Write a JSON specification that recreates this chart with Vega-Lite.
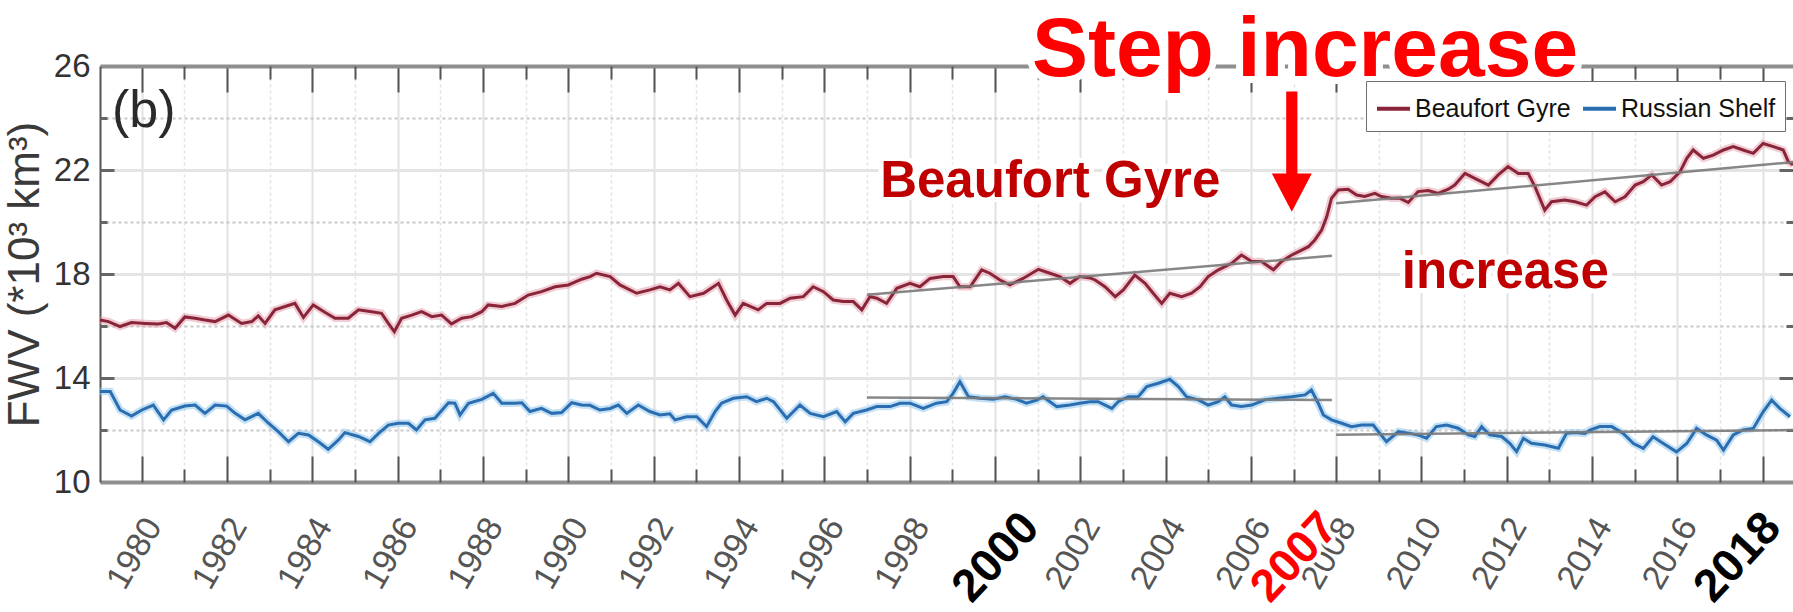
{
"$schema": "https://vega.github.io/schema/vega-lite/v6.json",
"width": 1693, "height": 416,
"autosize": {"type": "none"},
"padding": {"left": 100, "top": 66, "right": 0, "bottom": 130},
"background": "white",
"config": {"view": {"stroke": null}, "font": "Liberation Sans"},
"data": {"values": [
{"series":"Beaufort Gyre","year":1979.02,"fwv":16.23},{"series":"Beaufort Gyre","year":1979.22,"fwv":16.17},{"series":"Beaufort Gyre","year":1979.49,"fwv":15.98},{"series":"Beaufort Gyre","year":1979.76,"fwv":16.13},{"series":"Beaufort Gyre","year":1980.08,"fwv":16.10},{"series":"Beaufort Gyre","year":1980.39,"fwv":16.08},{"series":"Beaufort Gyre","year":1980.58,"fwv":16.13},{"series":"Beaufort Gyre","year":1980.78,"fwv":15.91},{"series":"Beaufort Gyre","year":1981.01,"fwv":16.35},{"series":"Beaufort Gyre","year":1981.25,"fwv":16.30},{"series":"Beaufort Gyre","year":1981.48,"fwv":16.23},{"series":"Beaufort Gyre","year":1981.72,"fwv":16.17},{"series":"Beaufort Gyre","year":1982.03,"fwv":16.42},{"series":"Beaufort Gyre","year":1982.34,"fwv":16.10},{"series":"Beaufort Gyre","year":1982.58,"fwv":16.17},{"series":"Beaufort Gyre","year":1982.73,"fwv":16.39},{"series":"Beaufort Gyre","year":1982.89,"fwv":16.10},{"series":"Beaufort Gyre","year":1983.12,"fwv":16.62},{"series":"Beaufort Gyre","year":1983.36,"fwv":16.75},{"series":"Beaufort Gyre","year":1983.59,"fwv":16.87},{"series":"Beaufort Gyre","year":1983.79,"fwv":16.33},{"series":"Beaufort Gyre","year":1984.02,"fwv":16.81},{"series":"Beaufort Gyre","year":1984.30,"fwv":16.52},{"series":"Beaufort Gyre","year":1984.53,"fwv":16.30},{"series":"Beaufort Gyre","year":1984.84,"fwv":16.30},{"series":"Beaufort Gyre","year":1985.08,"fwv":16.62},{"series":"Beaufort Gyre","year":1985.39,"fwv":16.55},{"series":"Beaufort Gyre","year":1985.62,"fwv":16.49},{"series":"Beaufort Gyre","year":1985.78,"fwv":16.10},{"series":"Beaufort Gyre","year":1985.92,"fwv":15.78},{"series":"Beaufort Gyre","year":1986.09,"fwv":16.30},{"series":"Beaufort Gyre","year":1986.33,"fwv":16.42},{"series":"Beaufort Gyre","year":1986.56,"fwv":16.55},{"series":"Beaufort Gyre","year":1986.80,"fwv":16.36},{"series":"Beaufort Gyre","year":1987.03,"fwv":16.42},{"series":"Beaufort Gyre","year":1987.26,"fwv":16.08},{"series":"Beaufort Gyre","year":1987.50,"fwv":16.30},{"series":"Beaufort Gyre","year":1987.73,"fwv":16.36},{"series":"Beaufort Gyre","year":1987.97,"fwv":16.55},{"series":"Beaufort Gyre","year":1988.12,"fwv":16.81},{"series":"Beaufort Gyre","year":1988.44,"fwv":16.75},{"series":"Beaufort Gyre","year":1988.75,"fwv":16.87},{"series":"Beaufort Gyre","year":1989.06,"fwv":17.19},{"series":"Beaufort Gyre","year":1989.37,"fwv":17.32},{"series":"Beaufort Gyre","year":1989.69,"fwv":17.51},{"series":"Beaufort Gyre","year":1990.00,"fwv":17.58},{"series":"Beaufort Gyre","year":1990.31,"fwv":17.80},{"series":"Beaufort Gyre","year":1990.51,"fwv":17.90},{"series":"Beaufort Gyre","year":1990.66,"fwv":18.03},{"series":"Beaufort Gyre","year":1990.98,"fwv":17.90},{"series":"Beaufort Gyre","year":1991.21,"fwv":17.58},{"series":"Beaufort Gyre","year":1991.60,"fwv":17.26},{"series":"Beaufort Gyre","year":1991.91,"fwv":17.39},{"series":"Beaufort Gyre","year":1992.15,"fwv":17.51},{"series":"Beaufort Gyre","year":1992.38,"fwv":17.39},{"series":"Beaufort Gyre","year":1992.58,"fwv":17.64},{"series":"Beaufort Gyre","year":1992.85,"fwv":17.13},{"series":"Beaufort Gyre","year":1993.17,"fwv":17.26},{"series":"Beaufort Gyre","year":1993.52,"fwv":17.64},{"series":"Beaufort Gyre","year":1993.71,"fwv":17.00},{"series":"Beaufort Gyre","year":1993.91,"fwv":16.42},{"series":"Beaufort Gyre","year":1994.10,"fwv":16.87},{"series":"Beaufort Gyre","year":1994.45,"fwv":16.62},{"series":"Beaufort Gyre","year":1994.65,"fwv":16.87},{"series":"Beaufort Gyre","year":1994.96,"fwv":16.87},{"series":"Beaufort Gyre","year":1995.20,"fwv":17.07},{"series":"Beaufort Gyre","year":1995.51,"fwv":17.13},{"series":"Beaufort Gyre","year":1995.74,"fwv":17.51},{"series":"Beaufort Gyre","year":1995.98,"fwv":17.32},{"series":"Beaufort Gyre","year":1996.21,"fwv":17.00},{"series":"Beaufort Gyre","year":1996.45,"fwv":16.94},{"series":"Beaufort Gyre","year":1996.68,"fwv":16.94},{"series":"Beaufort Gyre","year":1996.88,"fwv":16.62},{"series":"Beaufort Gyre","year":1997.07,"fwv":17.13},{"series":"Beaufort Gyre","year":1997.23,"fwv":17.07},{"series":"Beaufort Gyre","year":1997.46,"fwv":16.87},{"series":"Beaufort Gyre","year":1997.70,"fwv":17.45},{"series":"Beaufort Gyre","year":1998.01,"fwv":17.64},{"series":"Beaufort Gyre","year":1998.24,"fwv":17.51},{"series":"Beaufort Gyre","year":1998.48,"fwv":17.83},{"series":"Beaufort Gyre","year":1998.79,"fwv":17.90},{"series":"Beaufort Gyre","year":1999.02,"fwv":17.90},{"series":"Beaufort Gyre","year":1999.18,"fwv":17.51},{"series":"Beaufort Gyre","year":1999.42,"fwv":17.51},{"series":"Beaufort Gyre","year":1999.69,"fwv":18.16},{"series":"Beaufort Gyre","year":1999.88,"fwv":18.03},{"series":"Beaufort Gyre","year":2000.12,"fwv":17.77},{"series":"Beaufort Gyre","year":2000.35,"fwv":17.58},{"series":"Beaufort Gyre","year":2000.66,"fwv":17.83},{"series":"Beaufort Gyre","year":2001.02,"fwv":18.18},{"series":"Beaufort Gyre","year":2001.29,"fwv":18.03},{"series":"Beaufort Gyre","year":2001.52,"fwv":17.90},{"series":"Beaufort Gyre","year":2001.76,"fwv":17.64},{"series":"Beaufort Gyre","year":2001.99,"fwv":17.90},{"series":"Beaufort Gyre","year":2002.23,"fwv":17.85},{"series":"Beaufort Gyre","year":2002.35,"fwv":17.77},{"series":"Beaufort Gyre","year":2002.58,"fwv":17.51},{"series":"Beaufort Gyre","year":2002.82,"fwv":17.13},{"series":"Beaufort Gyre","year":2003.01,"fwv":17.39},{"series":"Beaufort Gyre","year":2003.28,"fwv":17.96},{"series":"Beaufort Gyre","year":2003.52,"fwv":17.64},{"series":"Beaufort Gyre","year":2003.71,"fwv":17.26},{"series":"Beaufort Gyre","year":2003.91,"fwv":16.87},{"series":"Beaufort Gyre","year":2004.10,"fwv":17.26},{"series":"Beaufort Gyre","year":2004.38,"fwv":17.13},{"series":"Beaufort Gyre","year":2004.61,"fwv":17.26},{"series":"Beaufort Gyre","year":2004.81,"fwv":17.51},{"series":"Beaufort Gyre","year":2005.00,"fwv":17.90},{"series":"Beaufort Gyre","year":2005.24,"fwv":18.16},{"series":"Beaufort Gyre","year":2005.55,"fwv":18.41},{"series":"Beaufort Gyre","year":2005.78,"fwv":18.73},{"series":"Beaufort Gyre","year":2006.02,"fwv":18.48},{"series":"Beaufort Gyre","year":2006.25,"fwv":18.48},{"series":"Beaufort Gyre","year":2006.53,"fwv":18.16},{"series":"Beaufort Gyre","year":2006.72,"fwv":18.48},{"series":"Beaufort Gyre","year":2006.96,"fwv":18.73},{"series":"Beaufort Gyre","year":2007.19,"fwv":18.92},{"series":"Beaufort Gyre","year":2007.35,"fwv":19.05},{"series":"Beaufort Gyre","year":2007.50,"fwv":19.31},{"series":"Beaufort Gyre","year":2007.66,"fwv":19.69},{"series":"Beaufort Gyre","year":2007.78,"fwv":20.21},{"series":"Beaufort Gyre","year":2007.89,"fwv":20.91},{"series":"Beaufort Gyre","year":2008.05,"fwv":21.23},{"series":"Beaufort Gyre","year":2008.28,"fwv":21.26},{"series":"Beaufort Gyre","year":2008.48,"fwv":21.04},{"series":"Beaufort Gyre","year":2008.67,"fwv":20.98},{"series":"Beaufort Gyre","year":2008.91,"fwv":21.10},{"series":"Beaufort Gyre","year":2009.06,"fwv":20.98},{"series":"Beaufort Gyre","year":2009.30,"fwv":20.91},{"series":"Beaufort Gyre","year":2009.50,"fwv":20.91},{"series":"Beaufort Gyre","year":2009.69,"fwv":20.75},{"series":"Beaufort Gyre","year":2009.92,"fwv":21.17},{"series":"Beaufort Gyre","year":2010.16,"fwv":21.21},{"series":"Beaufort Gyre","year":2010.39,"fwv":21.10},{"series":"Beaufort Gyre","year":2010.63,"fwv":21.26},{"series":"Beaufort Gyre","year":2010.78,"fwv":21.42},{"series":"Beaufort Gyre","year":2011.02,"fwv":21.87},{"series":"Beaufort Gyre","year":2011.25,"fwv":21.68},{"series":"Beaufort Gyre","year":2011.57,"fwv":21.42},{"series":"Beaufort Gyre","year":2011.80,"fwv":21.81},{"series":"Beaufort Gyre","year":2012.03,"fwv":22.13},{"series":"Beaufort Gyre","year":2012.27,"fwv":21.87},{"series":"Beaufort Gyre","year":2012.50,"fwv":21.87},{"series":"Beaufort Gyre","year":2012.66,"fwv":21.36},{"series":"Beaufort Gyre","year":2012.89,"fwv":20.46},{"series":"Beaufort Gyre","year":2013.05,"fwv":20.78},{"series":"Beaufort Gyre","year":2013.36,"fwv":20.85},{"series":"Beaufort Gyre","year":2013.60,"fwv":20.78},{"series":"Beaufort Gyre","year":2013.87,"fwv":20.65},{"series":"Beaufort Gyre","year":2014.07,"fwv":20.97},{"series":"Beaufort Gyre","year":2014.30,"fwv":21.16},{"series":"Beaufort Gyre","year":2014.54,"fwv":20.78},{"series":"Beaufort Gyre","year":2014.77,"fwv":20.97},{"series":"Beaufort Gyre","year":2015.01,"fwv":21.42},{"series":"Beaufort Gyre","year":2015.20,"fwv":21.55},{"series":"Beaufort Gyre","year":2015.40,"fwv":21.81},{"series":"Beaufort Gyre","year":2015.63,"fwv":21.42},{"series":"Beaufort Gyre","year":2015.83,"fwv":21.55},{"series":"Beaufort Gyre","year":2016.06,"fwv":21.93},{"series":"Beaufort Gyre","year":2016.22,"fwv":22.45},{"series":"Beaufort Gyre","year":2016.37,"fwv":22.77},{"series":"Beaufort Gyre","year":2016.61,"fwv":22.45},{"series":"Beaufort Gyre","year":2016.84,"fwv":22.57},{"series":"Beaufort Gyre","year":2017.08,"fwv":22.77},{"series":"Beaufort Gyre","year":2017.31,"fwv":22.90},{"series":"Beaufort Gyre","year":2017.54,"fwv":22.77},{"series":"Beaufort Gyre","year":2017.78,"fwv":22.64},{"series":"Beaufort Gyre","year":2018.01,"fwv":23.02},{"series":"Beaufort Gyre","year":2018.25,"fwv":22.90},{"series":"Beaufort Gyre","year":2018.48,"fwv":22.77},{"series":"Beaufort Gyre","year":2018.60,"fwv":22.32},{"series":"Beaufort Gyre","year":2018.71,"fwv":22.20},
{"series":"Russian Shelf","year":1979.02,"fwv":13.48},{"series":"Russian Shelf","year":1979.26,"fwv":13.48},{"series":"Russian Shelf","year":1979.49,"fwv":12.77},{"series":"Russian Shelf","year":1979.76,"fwv":12.54},{"series":"Russian Shelf","year":1980.00,"fwv":12.77},{"series":"Russian Shelf","year":1980.27,"fwv":12.96},{"series":"Russian Shelf","year":1980.51,"fwv":12.39},{"series":"Russian Shelf","year":1980.70,"fwv":12.77},{"series":"Russian Shelf","year":1981.01,"fwv":12.92},{"series":"Russian Shelf","year":1981.25,"fwv":12.96},{"series":"Russian Shelf","year":1981.48,"fwv":12.64},{"series":"Russian Shelf","year":1981.72,"fwv":12.96},{"series":"Russian Shelf","year":1981.99,"fwv":12.92},{"series":"Russian Shelf","year":1982.19,"fwv":12.64},{"series":"Russian Shelf","year":1982.42,"fwv":12.39},{"series":"Russian Shelf","year":1982.73,"fwv":12.64},{"series":"Russian Shelf","year":1982.97,"fwv":12.26},{"series":"Russian Shelf","year":1983.20,"fwv":11.94},{"series":"Russian Shelf","year":1983.44,"fwv":11.55},{"series":"Russian Shelf","year":1983.67,"fwv":11.87},{"series":"Russian Shelf","year":1983.91,"fwv":11.81},{"series":"Russian Shelf","year":1984.14,"fwv":11.55},{"series":"Russian Shelf","year":1984.37,"fwv":11.26},{"series":"Russian Shelf","year":1984.61,"fwv":11.62},{"series":"Russian Shelf","year":1984.76,"fwv":11.90},{"series":"Russian Shelf","year":1985.08,"fwv":11.75},{"series":"Russian Shelf","year":1985.35,"fwv":11.55},{"series":"Russian Shelf","year":1985.55,"fwv":11.87},{"series":"Russian Shelf","year":1985.78,"fwv":12.19},{"series":"Russian Shelf","year":1986.01,"fwv":12.26},{"series":"Russian Shelf","year":1986.25,"fwv":12.26},{"series":"Russian Shelf","year":1986.44,"fwv":12.00},{"series":"Russian Shelf","year":1986.64,"fwv":12.39},{"series":"Russian Shelf","year":1986.87,"fwv":12.45},{"series":"Russian Shelf","year":1987.19,"fwv":13.05},{"series":"Russian Shelf","year":1987.34,"fwv":13.03},{"series":"Russian Shelf","year":1987.46,"fwv":12.58},{"series":"Russian Shelf","year":1987.66,"fwv":13.03},{"series":"Russian Shelf","year":1987.97,"fwv":13.18},{"series":"Russian Shelf","year":1988.24,"fwv":13.41},{"series":"Russian Shelf","year":1988.44,"fwv":13.03},{"series":"Russian Shelf","year":1988.75,"fwv":13.03},{"series":"Russian Shelf","year":1988.91,"fwv":13.05},{"series":"Russian Shelf","year":1989.10,"fwv":12.71},{"series":"Russian Shelf","year":1989.37,"fwv":12.83},{"series":"Russian Shelf","year":1989.61,"fwv":12.64},{"series":"Russian Shelf","year":1989.84,"fwv":12.67},{"series":"Russian Shelf","year":1990.08,"fwv":13.05},{"series":"Russian Shelf","year":1990.31,"fwv":12.96},{"series":"Russian Shelf","year":1990.51,"fwv":12.95},{"series":"Russian Shelf","year":1990.74,"fwv":12.77},{"series":"Russian Shelf","year":1990.98,"fwv":12.83},{"series":"Russian Shelf","year":1991.17,"fwv":12.96},{"series":"Russian Shelf","year":1991.37,"fwv":12.64},{"series":"Russian Shelf","year":1991.64,"fwv":12.96},{"series":"Russian Shelf","year":1991.91,"fwv":12.71},{"series":"Russian Shelf","year":1992.15,"fwv":12.58},{"series":"Russian Shelf","year":1992.38,"fwv":12.62},{"series":"Russian Shelf","year":1992.50,"fwv":12.39},{"series":"Russian Shelf","year":1992.77,"fwv":12.51},{"series":"Russian Shelf","year":1993.01,"fwv":12.51},{"series":"Russian Shelf","year":1993.24,"fwv":12.13},{"series":"Russian Shelf","year":1993.44,"fwv":12.71},{"series":"Russian Shelf","year":1993.59,"fwv":13.03},{"series":"Russian Shelf","year":1993.87,"fwv":13.22},{"series":"Russian Shelf","year":1994.18,"fwv":13.28},{"series":"Russian Shelf","year":1994.41,"fwv":13.09},{"series":"Russian Shelf","year":1994.65,"fwv":13.22},{"series":"Russian Shelf","year":1994.81,"fwv":13.09},{"series":"Russian Shelf","year":1995.12,"fwv":12.45},{"series":"Russian Shelf","year":1995.43,"fwv":12.96},{"series":"Russian Shelf","year":1995.67,"fwv":12.64},{"series":"Russian Shelf","year":1995.98,"fwv":12.51},{"series":"Russian Shelf","year":1996.29,"fwv":12.71},{"series":"Russian Shelf","year":1996.49,"fwv":12.32},{"series":"Russian Shelf","year":1996.68,"fwv":12.64},{"series":"Russian Shelf","year":1996.99,"fwv":12.77},{"series":"Russian Shelf","year":1997.23,"fwv":12.90},{"series":"Russian Shelf","year":1997.54,"fwv":12.90},{"series":"Russian Shelf","year":1997.78,"fwv":13.03},{"series":"Russian Shelf","year":1998.01,"fwv":13.03},{"series":"Russian Shelf","year":1998.32,"fwv":12.83},{"series":"Russian Shelf","year":1998.63,"fwv":13.03},{"series":"Russian Shelf","year":1998.87,"fwv":13.09},{"series":"Russian Shelf","year":1999.02,"fwv":13.41},{"series":"Russian Shelf","year":1999.18,"fwv":13.86},{"series":"Russian Shelf","year":1999.38,"fwv":13.28},{"series":"Russian Shelf","year":1999.65,"fwv":13.22},{"series":"Russian Shelf","year":1999.96,"fwv":13.18},{"series":"Russian Shelf","year":2000.24,"fwv":13.28},{"series":"Russian Shelf","year":2000.51,"fwv":13.18},{"series":"Russian Shelf","year":2000.74,"fwv":13.03},{"series":"Russian Shelf","year":2000.98,"fwv":13.15},{"series":"Russian Shelf","year":2001.13,"fwv":13.28},{"series":"Russian Shelf","year":2001.45,"fwv":12.90},{"series":"Russian Shelf","year":2001.76,"fwv":12.96},{"series":"Russian Shelf","year":2001.99,"fwv":13.03},{"series":"Russian Shelf","year":2002.23,"fwv":13.09},{"series":"Russian Shelf","year":2002.42,"fwv":13.09},{"series":"Russian Shelf","year":2002.74,"fwv":12.83},{"series":"Russian Shelf","year":2002.89,"fwv":13.09},{"series":"Russian Shelf","year":2003.13,"fwv":13.28},{"series":"Russian Shelf","year":2003.36,"fwv":13.28},{"series":"Russian Shelf","year":2003.56,"fwv":13.67},{"series":"Russian Shelf","year":2003.83,"fwv":13.80},{"series":"Russian Shelf","year":2004.10,"fwv":13.95},{"series":"Russian Shelf","year":2004.30,"fwv":13.67},{"series":"Russian Shelf","year":2004.49,"fwv":13.28},{"series":"Russian Shelf","year":2004.77,"fwv":13.16},{"series":"Russian Shelf","year":2005.00,"fwv":12.96},{"series":"Russian Shelf","year":2005.24,"fwv":13.09},{"series":"Russian Shelf","year":2005.39,"fwv":13.28},{"series":"Russian Shelf","year":2005.55,"fwv":12.96},{"series":"Russian Shelf","year":2005.78,"fwv":12.90},{"series":"Russian Shelf","year":2006.02,"fwv":12.96},{"series":"Russian Shelf","year":2006.33,"fwv":13.16},{"series":"Russian Shelf","year":2006.64,"fwv":13.22},{"series":"Russian Shelf","year":2006.96,"fwv":13.28},{"series":"Russian Shelf","year":2007.27,"fwv":13.35},{"series":"Russian Shelf","year":2007.42,"fwv":13.54},{"series":"Russian Shelf","year":2007.58,"fwv":13.03},{"series":"Russian Shelf","year":2007.70,"fwv":12.58},{"series":"Russian Shelf","year":2007.89,"fwv":12.39},{"series":"Russian Shelf","year":2008.13,"fwv":12.26},{"series":"Russian Shelf","year":2008.36,"fwv":12.13},{"series":"Russian Shelf","year":2008.60,"fwv":12.19},{"series":"Russian Shelf","year":2008.87,"fwv":12.19},{"series":"Russian Shelf","year":2008.99,"fwv":11.94},{"series":"Russian Shelf","year":2009.18,"fwv":11.55},{"series":"Russian Shelf","year":2009.46,"fwv":11.94},{"series":"Russian Shelf","year":2009.73,"fwv":11.87},{"series":"Russian Shelf","year":2009.92,"fwv":11.81},{"series":"Russian Shelf","year":2010.12,"fwv":11.68},{"series":"Russian Shelf","year":2010.35,"fwv":12.13},{"series":"Russian Shelf","year":2010.59,"fwv":12.19},{"series":"Russian Shelf","year":2010.86,"fwv":12.07},{"series":"Russian Shelf","year":2011.10,"fwv":11.81},{"series":"Russian Shelf","year":2011.25,"fwv":11.75},{"series":"Russian Shelf","year":2011.41,"fwv":12.13},{"series":"Russian Shelf","year":2011.60,"fwv":11.81},{"series":"Russian Shelf","year":2011.88,"fwv":11.75},{"series":"Russian Shelf","year":2012.07,"fwv":11.49},{"series":"Russian Shelf","year":2012.23,"fwv":11.17},{"series":"Russian Shelf","year":2012.39,"fwv":11.68},{"series":"Russian Shelf","year":2012.58,"fwv":11.49},{"series":"Russian Shelf","year":2012.89,"fwv":11.42},{"series":"Russian Shelf","year":2013.21,"fwv":11.30},{"series":"Russian Shelf","year":2013.40,"fwv":11.87},{"series":"Russian Shelf","year":2013.60,"fwv":11.90},{"series":"Russian Shelf","year":2013.83,"fwv":11.87},{"series":"Russian Shelf","year":2013.95,"fwv":12.00},{"series":"Russian Shelf","year":2014.18,"fwv":12.13},{"series":"Russian Shelf","year":2014.46,"fwv":12.13},{"series":"Russian Shelf","year":2014.73,"fwv":11.87},{"series":"Russian Shelf","year":2014.97,"fwv":11.48},{"series":"Russian Shelf","year":2015.20,"fwv":11.29},{"series":"Russian Shelf","year":2015.43,"fwv":11.74},{"series":"Russian Shelf","year":2015.67,"fwv":11.48},{"series":"Russian Shelf","year":2015.98,"fwv":11.16},{"series":"Russian Shelf","year":2016.22,"fwv":11.48},{"series":"Russian Shelf","year":2016.45,"fwv":12.06},{"series":"Russian Shelf","year":2016.68,"fwv":11.81},{"series":"Russian Shelf","year":2016.92,"fwv":11.61},{"series":"Russian Shelf","year":2017.08,"fwv":11.23},{"series":"Russian Shelf","year":2017.31,"fwv":11.81},{"series":"Russian Shelf","year":2017.54,"fwv":12.00},{"series":"Russian Shelf","year":2017.78,"fwv":12.06},{"series":"Russian Shelf","year":2018.01,"fwv":12.70},{"series":"Russian Shelf","year":2018.21,"fwv":13.15},{"series":"Russian Shelf","year":2018.40,"fwv":12.83},{"series":"Russian Shelf","year":2018.64,"fwv":12.51}
]},
"encoding": {
  "x": {"field": "year", "type": "quantitative", "scale": {"domain": [1979.02, 2018.71], "nice": false, "zero": false}, "axis": null},
  "y": {"field": "fwv", "type": "quantitative", "scale": {"domain": [10, 26], "nice": false, "zero": false}, "axis": null}
},
"layer": [
  {
    "transform": [{"filter": "datum.series === 'Beaufort Gyre'"}],
    "mark": {"type": "line", "color": "#e3a2b1", "strokeWidth": 7.5, "opacity": 0.55},
    "encoding": {
      "x": {"field": "year", "type": "quantitative", "scale": {"domain": [1979.02, 2018.71], "nice": false, "zero": false},
        "axis": {"orient": "bottom", "values": [1980,1981,1982,1983,1984,1985,1986,1987,1988,1989,1990,1991,1992,1993,1994,1995,1996,1997,1998,1999,2000,2001,2002,2003,2004,2005,2006,2007,2008,2009,2010,2011,2012,2013,2014,2015,2016,2017,2018],
          "format": "d", "labelExpr": "(datum.value % 2 === 0 && datum.value !== 2000 && datum.value !== 2018) ? datum.label : ''",
          "ticks": false, "domain": true, "domainColor": "#8f8f8f", "domainWidth": 4,
          "grid": true, "gridColor": "#e2e2e2",
          "gridWidth": {"condition": {"test": "datum.value % 2 === 0", "value": 2}, "value": 1.5},
          "gridDash": {"condition": {"test": "datum.value % 2 === 1", "value": [3, 3]}, "value": []},
          "labelAngle": -60, "labelAlign": "right", "labelBaseline": "top", "labelFont": "Liberation Sans", "labelFontSize": 34,
          "labelColor": "#555555", "labelPadding": 30, "labelOffset": -3, "labelOverlap": false, "labelFlush": false, "labelBound": false, "title": null}},
      "y": {"field": "fwv", "type": "quantitative", "scale": {"domain": [10, 26], "nice": false, "zero": false},
        "axis": {"orient": "left", "values": [10,12,14,16,18,20,22,24,26],
          "labelExpr": "datum.value % 4 === 2 ? datum.label : ''",
          "ticks": false, "domain": true, "domainColor": "#555555", "domainWidth": 2,
          "grid": true,
          "gridColor": {"condition": {"test": "datum.value % 4 === 2", "value": "#e4e4e4"}, "value": "#c8c8c8"},
          "gridWidth": {"condition": {"test": "datum.value % 4 === 2", "value": 3}, "value": 2},
          "gridDash": {"condition": {"test": "datum.value % 4 === 0", "value": [3, 3]}, "value": []},
          "labelFont": "Liberation Sans", "labelFontSize": 33, "labelColor": "#333333", "labelPadding": 10,
          "title": "FWV (*10³ km³)", "titleFont": "Liberation Sans", "titleFontSize": 44, "titleFontWeight": "normal", "titleColor": "#3a3a3a", "titlePadding": 6}}
    }
  },
  {
    "transform": [{"filter": "datum.series === 'Russian Shelf'"}],
    "mark": {"type": "line", "color": "#93c6ec", "strokeWidth": 7.5, "opacity": 0.55},
    "encoding": {
      "x": {"field": "year", "type": "quantitative", "scale": {"domain": [1979.02, 2018.71], "nice": false, "zero": false},
        "axis": {"orient": "bottom", "values": [1980,1982,1984,1986,1988,1990,1992,1994,1996,1998,2000,2002,2004,2006,2008,2010,2012,2014,2016,2018],
          "labels": false, "grid": false, "domain": false, "ticks": true, "tickSize": -26, "tickColor": "#555555", "tickWidth": 2, "title": null}},
      "y": {"field": "fwv", "type": "quantitative", "scale": {"domain": [10, 26], "nice": false, "zero": false},
        "axis": {"orient": "left", "values": [14, 18, 22], "labels": false, "grid": false, "domain": false, "ticks": true, "tickSize": -14, "tickColor": "#666666", "tickWidth": 3, "title": null}}
    }
  },
  {
    "mark": {"type": "line", "strokeWidth": 3},
    "encoding": {
      "x": {"field": "year", "type": "quantitative", "scale": {"domain": [1979.02, 2018.71], "nice": false, "zero": false},
        "axis": {"orient": "bottom", "values": [1981,1983,1985,1987,1989,1991,1993,1995,1997,1999,2001,2003,2005,2007,2009,2011,2013,2015,2017],
          "labels": false, "grid": false, "domain": false, "ticks": true, "tickSize": -13, "tickColor": "#555555", "tickWidth": 2, "title": null}},
      "y": {"field": "fwv", "type": "quantitative", "scale": {"domain": [10, 26], "nice": false, "zero": false},
        "axis": {"orient": "left", "values": [12, 16, 20, 24], "labels": false, "grid": false, "domain": false, "ticks": true, "tickSize": -7, "tickColor": "#666666", "tickWidth": 3, "title": null}},
      "color": {"field": "series", "type": "nominal",
        "scale": {"domain": ["Beaufort Gyre", "Russian Shelf"], "range": ["#8a2438", "#2a6db0"]},
        "legend": {"orient": "none", "legendX": 1266, "legendY": 15, "direction": "horizontal", "title": null,
          "symbolType": "stroke", "symbolSize": 1089, "symbolStrokeWidth": 4,
          "labelFont": "Liberation Sans", "labelFontSize": 25, "labelColor": "#111111", "labelLimit": 400,
          "strokeColor": "#6e6e6e", "fillColor": "#ffffff", "padding": 9, "columnPadding": 4, "labelOffset": 3}}
    }
  },
  {
    "data": {"values": [
      {"seg": "bg1", "year": 1997.0, "fwv": 17.2}, {"seg": "bg1", "year": 2007.9, "fwv": 18.7},
      {"seg": "bg2", "year": 2008.0, "fwv": 20.72}, {"seg": "bg2", "year": 2018.71, "fwv": 22.3},
      {"seg": "rs1", "year": 1997.0, "fwv": 13.25}, {"seg": "rs1", "year": 2007.9, "fwv": 13.15},
      {"seg": "rs2", "year": 2008.0, "fwv": 11.82}, {"seg": "rs2", "year": 2018.71, "fwv": 12.0}
    ]},
    "mark": {"type": "line", "color": "#7a7a7a", "strokeWidth": 2.5, "opacity": 0.9},
    "encoding": {
      "detail": {"field": "seg"},
      "x": {"field": "year", "type": "quantitative", "scale": {"domain": [1979.02, 2018.71], "nice": false, "zero": false},
        "axis": {"orient": "top", "values": [1980,1982,1984,1986,1988,1990,1992,1994,1996,1998,2000,2002,2004,2006,2008,2010,2012,2014,2016,2018],
          "labels": false, "grid": false, "domain": true, "domainColor": "#8f8f8f", "domainWidth": 4, "ticks": true, "tickSize": -26, "tickColor": "#555555", "tickWidth": 2, "title": null}},
      "y": {"field": "fwv", "type": "quantitative", "scale": {"domain": [10, 26], "nice": false, "zero": false},
        "axis": {"orient": "right", "values": [14, 18, 22], "labels": false, "grid": false, "domain": false, "ticks": true, "tickSize": -14, "tickColor": "#666666", "tickWidth": 3, "title": null}}
    }
  },
  {
    "data": {"values": [{"year": 1979.30, "fwv": 24.27, "text": "(b)"}]},
    "mark": {"type": "text", "align": "left", "baseline": "middle", "font": "Liberation Sans", "fontSize": 52, "color": "#2a2a2a"},
    "encoding": {
      "text": {"field": "text"},
      "x": {"field": "year", "type": "quantitative", "scale": {"domain": [1979.02, 2018.71], "nice": false, "zero": false},
        "axis": {"orient": "top", "values": [1981,1983,1985,1987,1989,1991,1993,1995,1997,1999,2001,2003,2005,2007,2009,2011,2013,2015,2017],
          "labels": false, "grid": false, "domain": false, "ticks": true, "tickSize": -13, "tickColor": "#555555", "tickWidth": 2, "title": null}},
      "y": {"field": "fwv", "type": "quantitative", "scale": {"domain": [10, 26], "nice": false, "zero": false},
        "axis": {"orient": "right", "values": [12, 16, 20, 24], "labels": false, "grid": false, "domain": false, "ticks": true, "tickSize": -7, "tickColor": "#666666", "tickWidth": 3, "title": null}}
    }
  },
  {
    "data": {"values": [{"year": 1997.31, "fwv": 20.96, "text": "Beaufort Gyre"}, {"year": 2009.54, "fwv": 17.46, "text": "increase"}]},
    "mark": {"type": "text", "align": "left", "baseline": "alphabetic", "font": "Liberation Sans", "fontWeight": "bold", "fontSize": 51, "fill": "#ffffff", "stroke": "#ffffff", "strokeWidth": 10, "strokeJoin": "round"},
    "encoding": {"text": {"field": "text"}}
  },
  {
    "data": {"values": [{"year": 1997.31, "fwv": 20.96, "text": "Beaufort Gyre"}, {"year": 2009.54, "fwv": 17.46, "text": "increase"}]},
    "mark": {"type": "text", "align": "left", "baseline": "alphabetic", "font": "Liberation Sans", "fontWeight": "bold", "fontSize": 51, "color": "#c00000"},
    "encoding": {"text": {"field": "text"}}
  },
  {
    "data": {"values": [{"year": 2007.27, "fwv": 25.62, "text": "Step increase"}]},
    "mark": {"type": "text", "align": "center", "baseline": "alphabetic", "font": "Liberation Sans", "fontWeight": "bold", "fontSize": 84, "fill": "#ffffff", "stroke": "#ffffff", "strokeWidth": 14, "strokeJoin": "round"},
    "encoding": {"text": {"field": "text"}}
  },
  {
    "data": {"values": [{"year": 2007.27, "fwv": 25.62, "text": "Step increase"}]},
    "mark": {"type": "text", "align": "center", "baseline": "alphabetic", "font": "Liberation Sans", "fontWeight": "bold", "fontSize": 84, "color": "#ff0000"},
    "encoding": {"text": {"field": "text"}}
  },
  {
    "data": {"values": [{"year": 2006.96, "fwv": 21.87}]},
    "mark": {"type": "point", "shape": "M-0.28,-4.1L0.28,-4.1L0.28,0L1,0L0,1.92L-1,0L-0.28,0Z", "size": 1600, "filled": true, "color": "#ff0000", "opacity": 1, "strokeWidth": 0}
  },
  {
    "data": {"values": [{"year": 2000, "fwv": 10, "label": "2000"}, {"year": 2007, "fwv": 10, "label": "2007"}]},
    "mark": {"type": "text", "align": "right", "baseline": "top", "angle": -47, "font": "Liberation Sans", "fontWeight": "bold", "fontSize": 46, "fill": "#ffffff", "stroke": "#ffffff", "strokeWidth": 8, "strokeJoin": "round", "xOffset": 20, "yOffset": 23},
    "encoding": {"text": {"field": "label"}}
  },
  {
    "data": {"values": [{"year": 2000, "fwv": 10, "label": "2000"}, {"year": 2007, "fwv": 10, "label": "2007"}]},
    "mark": {"type": "text", "align": "right", "baseline": "top", "angle": -47, "font": "Liberation Sans", "fontWeight": "bold", "fontSize": 46, "xOffset": 20, "yOffset": 23},
    "encoding": {"text": {"field": "label"},
      "color": {"condition": {"test": "datum.label === '2007'", "value": "#ff0000"}, "value": "#000000"}}
  },
  {
    "data": {"values": [{"year": 2018, "fwv": 10, "label": "2018"}]},
    "mark": {"type": "text", "align": "right", "baseline": "top", "angle": -47, "font": "Liberation Sans", "fontWeight": "bold", "fontSize": 46, "fill": "#ffffff", "stroke": "#ffffff", "strokeWidth": 6, "strokeJoin": "round", "xOffset": -6, "yOffset": 23},
    "encoding": {"text": {"field": "label"}}
  },
  {
    "data": {"values": [{"year": 2018, "fwv": 10, "label": "2018"}]},
    "mark": {"type": "text", "align": "right", "baseline": "top", "angle": -47, "font": "Liberation Sans", "fontWeight": "bold", "fontSize": 46, "color": "#000000", "xOffset": -6, "yOffset": 23},
    "encoding": {"text": {"field": "label"}}
  }
],
"resolve": {"axis": {"x": "independent", "y": "independent"}}
}
